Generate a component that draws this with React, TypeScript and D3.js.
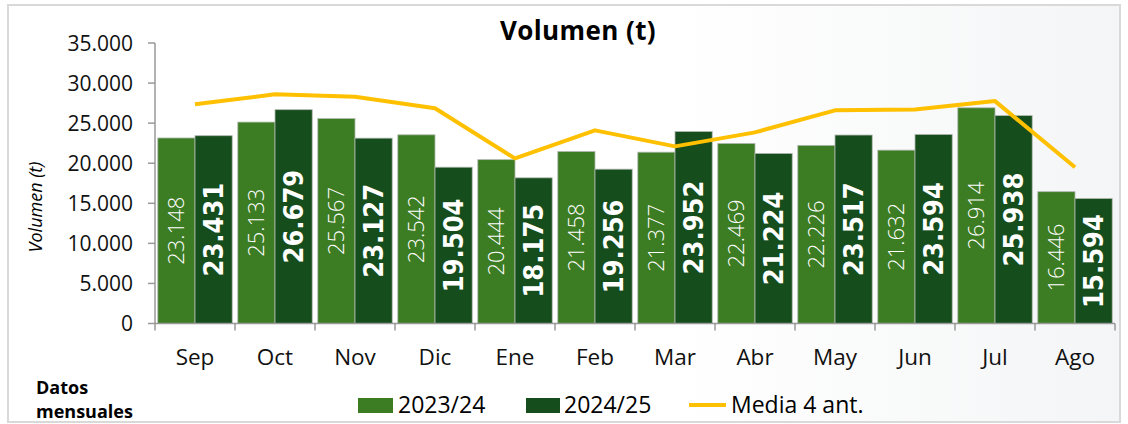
import React from "react";
import * as d3 from "d3";

const months = ["Sep", "Oct", "Nov", "Dic", "Ene", "Feb", "Mar", "Abr", "May", "Jun", "Jul", "Ago"];
const serie2324 = [23148, 25133, 25567, 23542, 20444, 21458, 21377, 22469, 22226, 21632, 26914, 16446];
const serie2425 = [23431, 26679, 23127, 19504, 18175, 19256, 23952, 21224, 23517, 23594, 25938, 15594];
const media4 = [27350, 28600, 28300, 26850, 20600, 24100, 22100, 23850, 26600, 26700, 27750, 19500];
const yTicks = [0, 5000, 10000, 15000, 20000, 25000, 30000, 35000];
const seriesNames = ["2023/24", "2024/25", "Media 4 ant."];

const W = 1128, H = 424;
const left = 155, right = 1115, top = 43, bottom = 323.5;
const C1 = "#3C7C23", C2 = "#154D1C", CL = "#FFC000";
const font = "'Open Sans', 'Noto Sans', sans-serif";
const fmt = (v: number) => d3.format(",")(v).replace(/,/g, ".");

export default function App() {
  const x = d3.scaleBand<string>().domain(months).range([left, right]).paddingInner(0.07).paddingOuter(0.035);
  const x1 = d3.scaleBand<string>().domain(["a", "b"]).range([0, x.bandwidth()]);
  const y = d3.scaleLinear().domain([0, 35000]).range([bottom, top]);
  const step = (right - left) / months.length;
  const line = d3.line<number>().x((_, i) => (x(months[i]) as number) + x.bandwidth() / 2).y(d => y(d));
  return (
    <svg width={W} height={H} style={{ position: "absolute", left: 0, top: 0 }}>
      <defs>
        <linearGradient id="bg" x1="0" x2="1" y1="0" y2="0">
          <stop offset="0" stopColor="#ffffff" />
          <stop offset="0.6" stopColor="#ffffff" />
          <stop offset="1" stopColor="#f4f5f6" />
        </linearGradient>
      </defs>
      <rect x={8} y={5} width={1112} height={417} fill="url(#bg)" stroke="#d9d9d9" strokeWidth={2} />
      <text x={578} y={40} textAnchor="middle" fontFamily={font} fontWeight="bold" fontSize={26} letterSpacing={0.4} fill="#000">Volumen (t)</text>
      <text transform={`translate(42,207) rotate(-90)`} textAnchor="middle" fontFamily={font} fontStyle="italic" fontSize={18} fill="#000">Volumen (t)</text>
      {/* y axis */}
      <line x1={left} x2={left} y1={top} y2={bottom} stroke="#999" strokeWidth={1.5} />
      {yTicks.map(t => (
        <g key={t}>
          <line x1={left - 7} x2={left} y1={y(t)} y2={y(t)} stroke="#999" strokeWidth={1.5} />
          <text x={133} y={y(t)} dy="0.36em" textAnchor="end" fontFamily={font} fontSize={21} fill="#111">{fmt(t)}</text>
        </g>
      ))}
      {/* bars */}
      {months.map((m, i) => {
        const gx = x(m) as number;
        const vals = [serie2324[i], serie2425[i]];
        return (
          <g key={m}>
            {vals.map((v, j) => {
              const bx = gx + (x1(j === 0 ? "a" : "b") as number);
              const bw = x1.bandwidth();
              const by = y(v);
              const cy = (by + bottom) / 2;
              return (
                <g key={j}>
                  <rect x={bx} y={by} width={bw} height={bottom - by} fill={j === 0 ? C1 : C2} stroke="#b0b8b0" strokeWidth={0.8} />
                  <text transform={`translate(${bx + bw / 2},${cy}) rotate(-90)`} textAnchor="middle" dy="0.36em"
                    fontFamily={j === 0 ? font : "'DejaVu Sans Condensed', 'DejaVu Sans', sans-serif"}
                    fontWeight={j === 0 ? 300 : "bold"} fontSize={j === 0 ? 22 : 27} fill="#fff">{fmt(v)}</text>
                </g>
              );
            })}
          </g>
        );
      })}
      {/* x axis */}
      <line x1={left} x2={right} y1={bottom} y2={bottom} stroke="#999" strokeWidth={1.5} />
      {d3.range(months.length + 1).map(i => (
        <line key={i} x1={left + i * step} x2={left + i * step} y1={bottom} y2={bottom + 7} stroke="#999" strokeWidth={1.5} />
      ))}
      {months.map(m => (
        <text key={m} x={(x(m) as number) + x.bandwidth() / 2} y={365} textAnchor="middle" fontFamily={font} fontSize={22.5} fill="#111">{m}</text>
      ))}
      {/* line */}
      <path d={line(media4) || ""} fill="none" stroke={CL} strokeWidth={4} strokeLinejoin="round" />
      {/* legend */}
      <text x={36} y={394} fontFamily={font} fontWeight="bold" fontSize={18} fill="#000">Datos</text>
      <text x={36} y={418} fontFamily={font} fontWeight="bold" fontSize={18} fill="#000">mensuales</text>
      <rect x={358} y={398} width={35} height={15} fill={C1} />
      <text x={398} y={413} fontFamily={font} fontSize={23} fill="#000">{seriesNames[0]}</text>
      <rect x={526} y={398} width={34} height={15} fill={C2} />
      <text x={564} y={413} fontFamily={font} fontSize={23} fill="#000">{seriesNames[1]}</text>
      <line x1={689} x2={726} y1={405} y2={405} stroke={CL} strokeWidth={4} />
      <text x={731} y={413} fontFamily={font} fontSize={23} fill="#000">{seriesNames[2]}</text>
    </svg>
  );
}
